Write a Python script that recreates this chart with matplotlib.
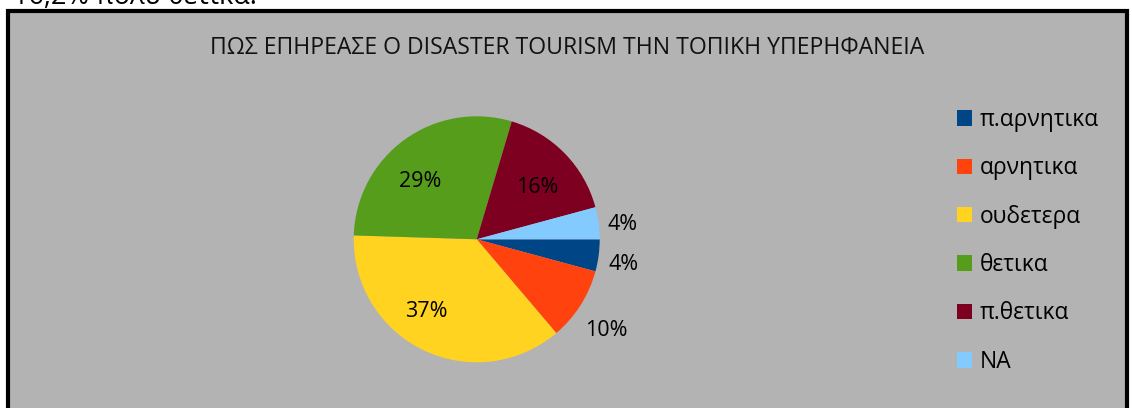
import matplotlib.pyplot as plt
import matplotlib.patches as patches
import numpy as np

plt.rcParams['font.family'] = ['Open Sans', 'DejaVu Sans']

# data
categories = ['π.αρνητικα', 'αρνητικα', 'ουδετερα', 'θετικα', 'π.θετικα', 'NA']
shares = [4.2, 9.6, 36.7, 29.1, 16.2, 4.2]
colors = ['#004586', '#ff420e', '#ffd320', '#579d1c', '#7e0021', '#83caff']
title = 'ΠΩΣ ΕΠΗΡΕΑΣΕ Ο DISASTER TOURISM ΤΗΝ ΤΟΠΙΚΗ ΥΠΕΡΗΦΑΝΕΙΑ'
top_line = '16,2% πολύ θετικά.'

# label placement (radius factor, angle shift in degrees)
label_dist = [1.21, 1.28, 0.70, 0.67, 0.66, 1.19]
label_shift = [-1.5, -2, -10, 7.5, -3, -1.2]

W, H = 1132, 408
fig = plt.figure(figsize=(W / 100, H / 100), dpi=100)
fig.patch.set_facecolor('white')

# grey chart box
box = patches.Rectangle((7.5 / W, -0.05), (1126.5 - 7.5) / W, (H - 10.8) / H + 0.05,
                        transform=fig.transFigure, facecolor='#b3b3b3',
                        edgecolor='black', linewidth=3, zorder=-10)
fig.patches.append(box)

# cut off text from the page above the chart
fig.text(13 / W, 1 - 3.5 / H, top_line, fontsize=19.5, va='baseline', ha='left', color='black')

fig.text(567 / W, 1 - 48 / H, title, fontsize=16.6, ha='center', va='center', color='#111111')

cx, cy, r = 476.7, 239.3, 123
ax = fig.add_axes([(cx - r) / W, (H - cy - r) / H, 2 * r / W, 2 * r / H])
ax.set_facecolor('none')
wedges, _ = ax.pie(shares, colors=colors, startangle=0, counterclock=False,
                   wedgeprops=dict(linewidth=0))
ax.set_xlim(-1, 1)
ax.set_ylim(-1, 1)
ax.set_aspect('equal')
ax.axis('off')

for w, v, d, s in zip(wedges, shares, label_dist, label_shift):
    ang = np.deg2rad((w.theta1 + w.theta2) / 2 + s)
    ax.text(d * np.cos(ang), d * np.sin(ang) - 0.015, f'{round(v)}%', fontsize=15.5,
            ha='center', va='center', color='black')

handles = [patches.Patch(facecolor=c, edgecolor='none') for c in colors]
fig.legend(handles, categories, loc='upper left', bbox_to_anchor=(957 / W, 1 - 108 / H),
           frameon=False, fontsize=16.4, handlelength=0.66, handleheight=0.66,
           handletextpad=0.33, labelspacing=1.07, borderpad=0, borderaxespad=0)

fig.savefig('out.png', dpi=100)
